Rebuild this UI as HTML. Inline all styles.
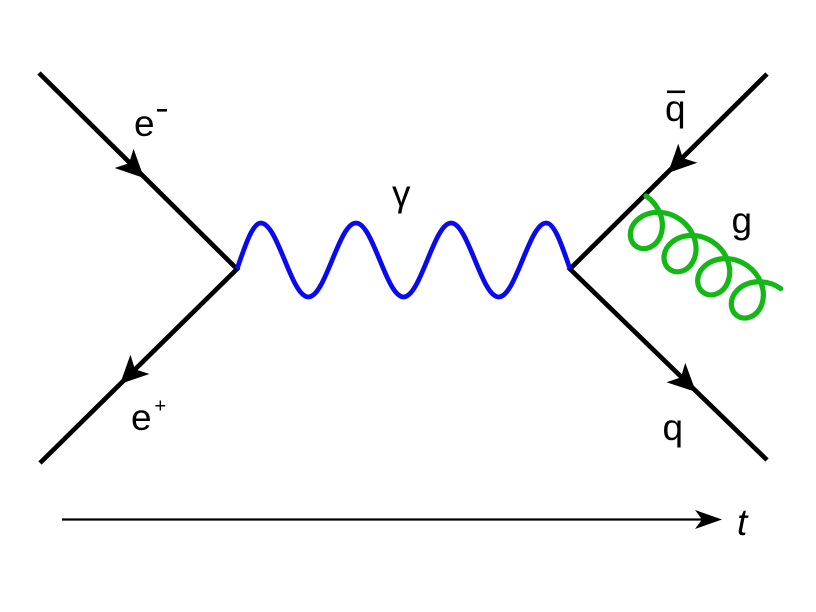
<!DOCTYPE html>
<html>
<head>
<meta charset="utf-8">
<style>
  html, body { margin: 0; padding: 0; background: #ffffff; }
  svg { display: block; }
  text { font-family: "Liberation Sans", "DejaVu Sans", sans-serif; fill: #000; }
</style>
</head>
<body>
<svg width="816" height="612" viewBox="0 0 816 612" xmlns="http://www.w3.org/2000/svg">
  <rect width="816" height="612" fill="#ffffff"/>

  <!-- fermion lines -->
  <polyline points="39,73 237,269 40,463" fill="none" stroke="#000" stroke-width="4.7" stroke-linejoin="miter" stroke-linecap="butt"/>
  <polyline points="767,74 570,269 767,460" fill="none" stroke="#000" stroke-width="4.7" stroke-linejoin="miter" stroke-linecap="butt"/>

  <!-- arrowheads -->
  <path d="M0,0 L-28,-13.5 L-21,0 L-28,13.5 Z" fill="#000" transform="translate(144,178) rotate(44.6)"/>
  <path d="M0,0 L-28,-13.5 L-21,0 L-28,13.5 Z" fill="#000" transform="translate(120,384) rotate(135.4)"/>
  <path d="M0,0 L-28,-13.5 L-21,0 L-28,13.5 Z" fill="#000" transform="translate(668,173) rotate(135.1)"/>
  <path d="M0,0 L-28,-13.5 L-21,0 L-28,13.5 Z" fill="#000" transform="translate(696,392) rotate(44)"/>

  <!-- photon -->
  <path d="M237,269
           c7.75,-22 15.22,-46 23.79,-46
           c8.56,0 16.03,18.06 23.79,37
           c7.75,18.94 15.22,37 23.79,37
           c8.56,0 16.03,-18.06 23.79,-37
           c7.75,-18.94 15.22,-37 23.79,-37
           c8.56,0 16.03,18.06 23.79,37
           c7.75,18.94 15.22,37 23.79,37
           c8.56,0 16.03,-18.06 23.79,-37
           c7.75,-18.94 15.22,-37 23.79,-37
           c8.56,0 16.03,18.06 23.79,37
           c7.75,18.94 15.22,37 23.79,37
           c8.56,0 16.03,-18.06 23.79,-37
           c7.75,-18.94 15.22,-37 23.79,-37
           c8.56,0 16.03,24 23.79,46"
        fill="none" stroke="#0a0af0" stroke-width="4.8" stroke-linecap="butt"/>

  <!-- gluon -->
  <path transform="translate(646,196) rotate(34.5)"
        d="M0,0
           c16.78,0 30.63,10.57 34.21,23.5 c3.58,12.93 -4.16,23.5 -13.79,23.5 c-9.63,0 -17.37,-10.57 -13.79,-23.5 c3.58,-12.93 17.43,-23.5 34.21,-23.5
           c16.78,0 30.63,10.57 34.21,23.5 c3.58,12.93 -4.16,23.5 -13.79,23.5 c-9.63,0 -17.37,-10.57 -13.79,-23.5 c3.58,-12.93 17.43,-23.5 34.21,-23.5
           c16.78,0 30.63,10.57 34.21,23.5 c3.58,12.93 -4.16,23.5 -13.79,23.5 c-9.63,0 -17.37,-10.57 -13.79,-23.5 c3.58,-12.93 17.43,-23.5 34.21,-23.5
           c16.78,0 30.63,10.57 34.21,23.5 c3.58,12.93 -4.16,23.5 -13.79,23.5 c-9.63,0 -17.37,-10.57 -13.79,-23.5 c3.58,-12.93 17.43,-23.5 34.21,-23.5"
        fill="none" stroke="#14b814" stroke-width="5.2" stroke-linecap="round"/>

  <!-- time axis -->
  <line x1="62" y1="519.5" x2="705" y2="519.5" stroke="#000" stroke-width="2.2"/>
  <path d="M0,0 L-27,-9.5 L-20,0 L-27,9.5 Z" fill="#000" transform="translate(722,519.5)"/>

  <!-- labels -->
  <text x="134" y="136" font-size="37">e</text>
  <rect x="157" y="109" width="10" height="2.6" fill="#000"/>

  <text x="131" y="430" font-size="37">e</text>
  <text x="154.5" y="412.5" font-size="20">+</text>

  <text x="392" y="206" font-size="37">γ</text>

  <text x="665" y="121" font-size="37">q</text>
  <rect x="667" y="90.5" width="18" height="2.6" fill="#000"/>

  <text x="731.5" y="233" font-size="37">g</text>

  <text x="662.5" y="440" font-size="37">q</text>

  <text x="737" y="535" font-size="37" font-style="italic">t</text>
</svg>
</body>
</html>
